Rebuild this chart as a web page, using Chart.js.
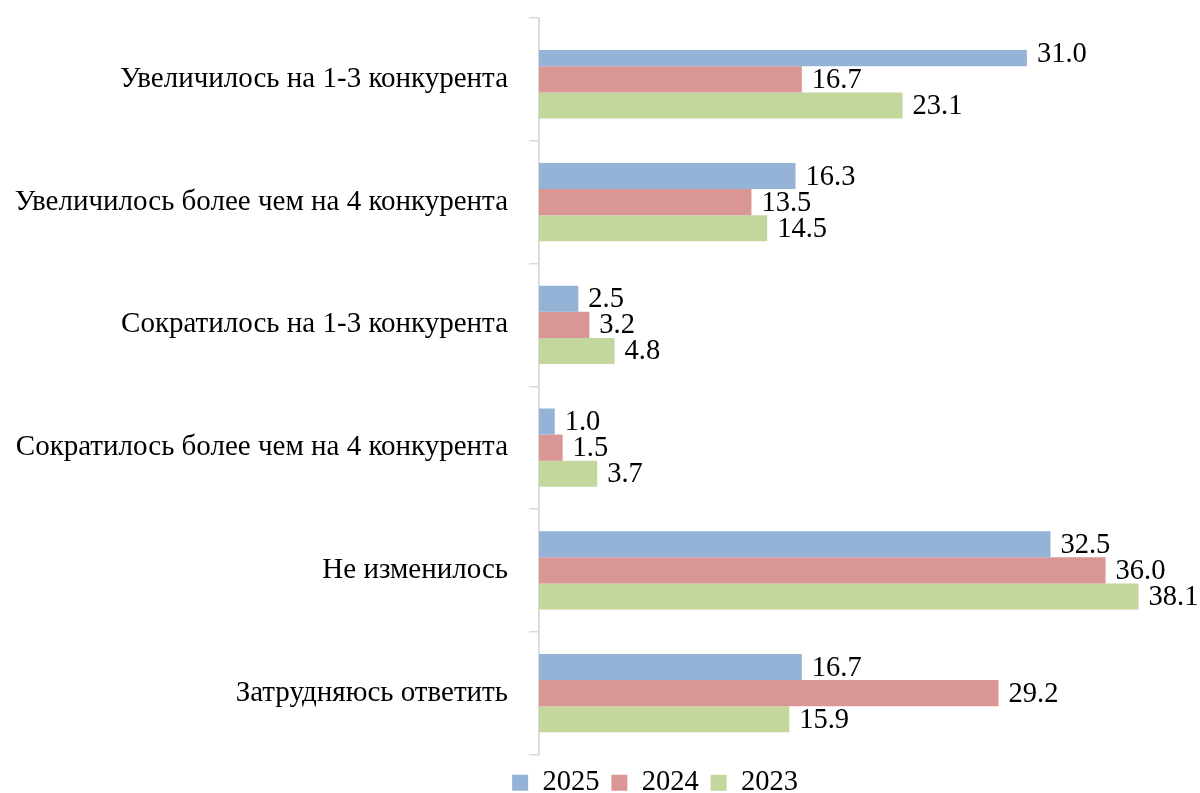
<!DOCTYPE html>
<html>
<head>
<meta charset="utf-8">
<script src="https://cdn.jsdelivr.net/npm/chart.js@4"></script>
<style>
  html, body { margin: 0; padding: 0; background: #fff; }
  #wrap { width: 1200px; height: 793px; }
</style>
</head>
<body>
<div id="wrap"><canvas id="chart"></canvas></div>
<script>
const categories = [
  "Увеличилось на 1-3 конкурента",
  "Увеличилось более чем на 4 конкурента",
  "Сократилось на 1-3 конкурента",
  "Сократилось более чем на 4 конкурента",
  "Не изменилось",
  "Затрудняюсь ответить",
];
const years = ["2025", "2024", "2023"];
const values2025 = [31.0, 16.3, 2.5, 1.0, 32.5, 16.7];
const values2024 = [16.7, 13.5, 3.2, 1.5, 36.0, 29.2];
const values2023 = [23.1, 14.5, 4.8, 3.7, 38.1, 15.9];

const colors = ["#95B3D7", "#D99694", "#C3D69B"];
const fontFamily = "'Liberation Serif', 'Times New Roman', serif";

// draw the value at the end of every bar
const valueLabels = {
  id: "valueLabels",
  afterDatasetsDraw(chart) {
    const ctx = chart.ctx;
    ctx.save();
    ctx.font = "28.5px " + fontFamily;
    ctx.fillStyle = "#000";
    ctx.textAlign = "left";
    ctx.textBaseline = "middle";
    chart.data.datasets.forEach((ds, i) => {
      const meta = chart.getDatasetMeta(i);
      meta.data.forEach((bar, j) => {
        ctx.fillText(ds.data[j].toFixed(1), bar.x + 10, bar.y + 1);
      });
    });
    ctx.restore();
  },
};

// the legend in the original sits a bit right of the page centre
const shiftLegend = {
  id: "shiftLegend",
  afterLayout(chart) {
    chart.legend.left += 110;
    chart.legend.top += 2;
    chart.legend.bottom += 2;
  },
};

new Chart(document.getElementById("chart"), {
  type: "bar",
  data: {
    labels: categories,
    datasets: [
      {
        label: years[0],
        data: values2025,
        backgroundColor: colors[0],
        // top bar is cut off in the original
        clip: { left: 0, top: -32, right: 0, bottom: 0 },
      },
      { label: years[1], data: values2024, backgroundColor: colors[1] },
      { label: years[2], data: values2023, backgroundColor: colors[2] },
    ],
  },
  options: {
    indexAxis: "y",
    responsive: true,
    maintainAspectRatio: false,
    animation: false,
    categoryPercentage: 0.636,
    barPercentage: 1,
    layout: { padding: { left: 0, right: 0, top: 18, bottom: -12 } },
    scales: {
      x: { display: false, min: 0, max: 42 },
      y: {
        afterFit(scale) {
          scale.width = 539;
          scale.paddingTop = 0;
          scale.paddingBottom = 0;
        },
        grid: {
          offset: true,
          drawOnChartArea: false,
          tickLength: 10,
          color: "#d9d9d9",
          lineWidth: 1.5,
        },
        border: { display: true, color: "#d9d9d9", width: 1.8 },
        ticks: {
          padding: 21,
          color: "#000",
          font: { family: fontFamily, size: 29 },
        },
      },
    },
    plugins: {
      legend: {
        position: "bottom",
        labels: {
          boxWidth: 16,
          boxHeight: 16,
          padding: 12,
          color: "#000",
          font: { family: fontFamily, size: 28.5 },
        },
      },
      tooltip: { enabled: false },
    },
  },
  plugins: [valueLabels, shiftLegend],
});
</script>
</body>
</html>
